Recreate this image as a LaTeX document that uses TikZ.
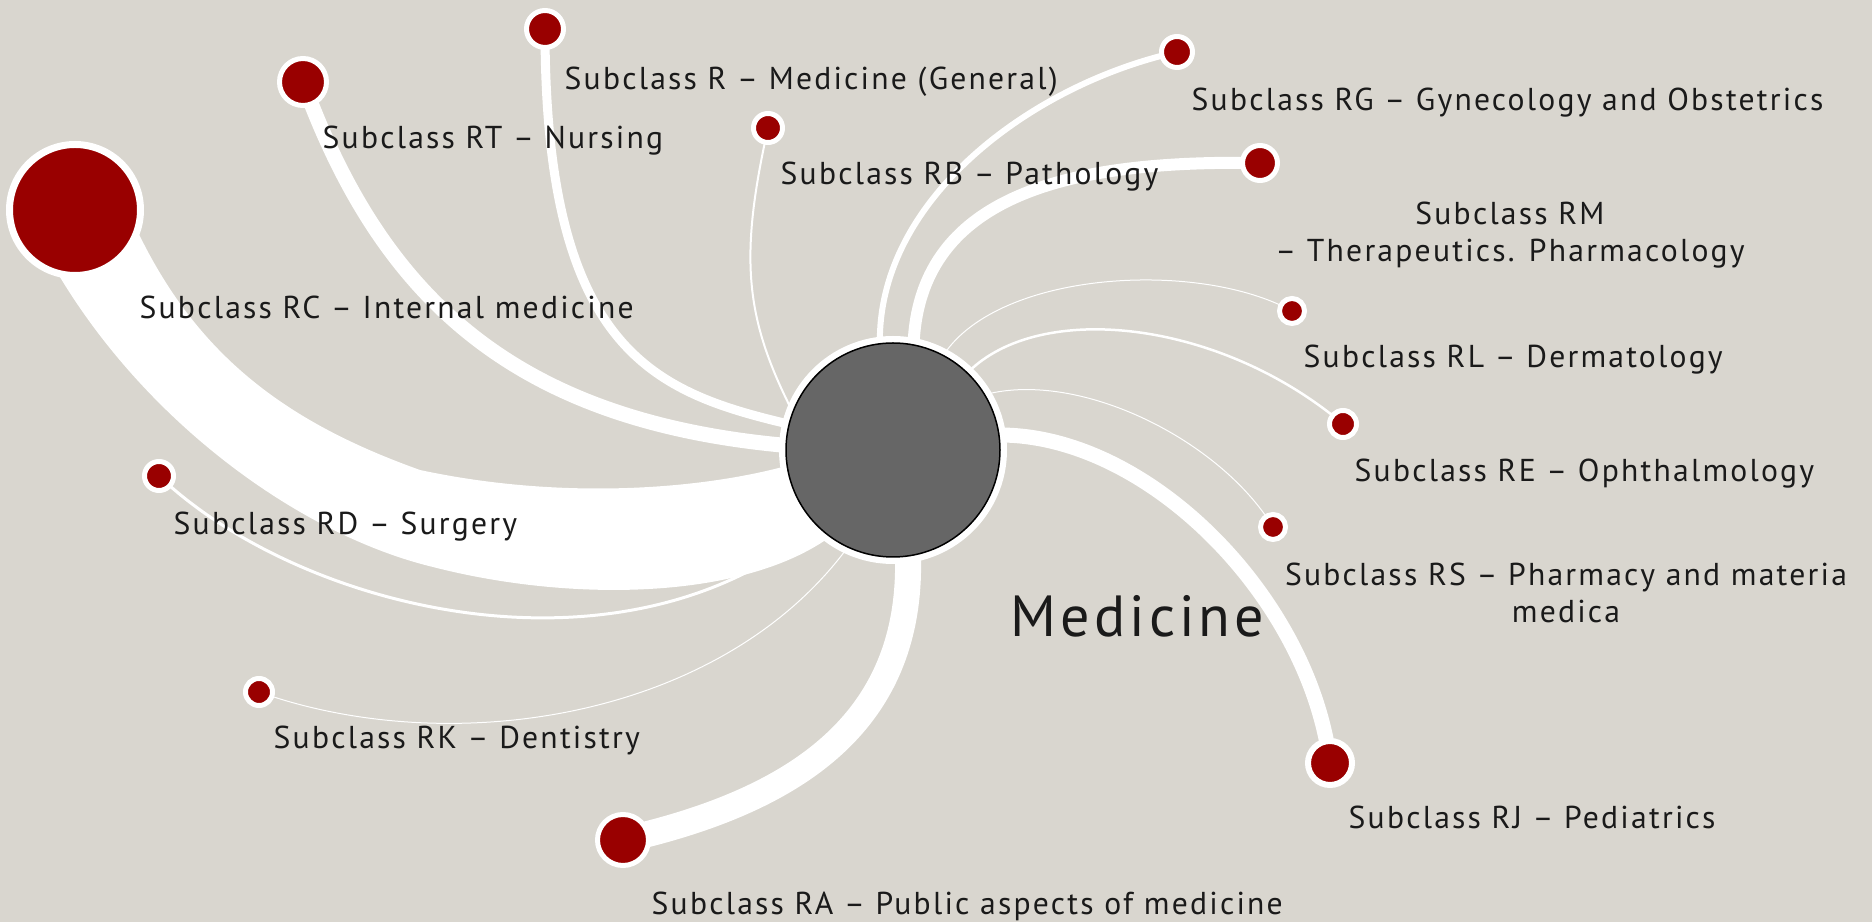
\documentclass[tikz,border=0pt]{standalone}
\usepackage{fontspec}
\setmainfont{PT Sans}[LetterSpace=7]
\newlength\pix
\setlength\pix{0.01cm}
\definecolor{canvas}{HTML}{D9D6CF}
\definecolor{berry}{HTML}{990000}
\definecolor{hubgray}{HTML}{666666}
\definecolor{ink}{HTML}{1A1A1A}
\pgfdeclarelayer{back}
\pgfsetlayers{back,main}

\begin{document}
\begin{tikzpicture}[x=0.01cm, y=-0.01cm,
  leaf/.style={circle, inner sep=0pt, fill=berry, draw=white, line width=5\pix, minimum size=#1\pix},
  leaf/.default=30,
  hub/.style={circle, inner sep=0pt, minimum size=214\pix, fill=hubgray, draw=black,
    line width=1.5\pix, preaction={draw=white, line width=14\pix}},
  lbl/.style={anchor=base west, inner sep=0pt, text=ink, font=\fontsize{9}{10.8}\selectfont},
  link/.style={draw=white, line width=#1\pix}]
  \useasboundingbox (0,0) rectangle (1872,922);
  % nodes
  \node[hub] (hub) at (893,450) {};
  \node[leaf=131, line width=7\pix] (rc) at (75,210) {};
  \node[leaf=47] (rt) at (303,82) {};
  \node[leaf=37] (rgen) at (545,29) {};
  \node[leaf=29] (rb) at (768,128) {};
  \node[leaf=31] (rg) at (1177,52) {};
  \node[leaf=35] (rm) at (1260,163) {};
  \node[leaf=25] (rl) at (1292,311) {};
  \node[leaf=27] (re) at (1343,424) {};
  \node[leaf=25] (rs) at (1273,527) {};
  \node[leaf=44, line width=6\pix] (rj) at (1330,763) {};
  \node[leaf=51] (ra) at (623,840) {};
  \node[leaf=27] (rk) at (259,692) {};
  \node[leaf=29] (rd) at (159,476) {};
  % labels
  \node[lbl] (lrgen) at (564,90) {Subclass R – Medicine (General)};
  \node[lbl] (lrt) at (322,149) {Subclass RT – Nursing};
  \node[lbl] (lrb) at (780,185) {Subclass RB – Pathology};
  \node[lbl] (lrc) at (139,319) {Subclass RC – Internal medicine};
  \node[lbl] (lrg) at (1191,111) {Subclass RG – Gynecology and Obstetrics};
  \node[lbl, anchor=base, align=center] (lrm) at (1510,262) {Subclass RM\\– Therapeutics. Pharmacology};
  \node[lbl] (lrl) at (1303,368) {Subclass RL – Dermatology};
  \node[lbl] (lre) at (1354,482) {Subclass RE – Ophthalmology};
  \node[lbl, anchor=base, align=center] (lrs) at (1566,623) {Subclass RS – Pharmacy and materia\\medica};
  \node[lbl] (lrj) at (1348,829) {Subclass RJ – Pediatrics};
  \node[lbl] (lra) at (651,915) {Subclass RA – Public aspects of medicine};
  \node[lbl] (lrk) at (273,749) {Subclass RK – Dentistry};
  \node[lbl] (lrd) at (173,535) {Subclass RD – Surgery};
  \node[lbl, font=\fontsize{16.5}{20}\selectfont] (lhub) at (1010,637) {Medicine};
  % links
  \begin{pgfonlayer}{back}
    \fill[canvas] (0,0) rectangle (1872,922);
    \fill[white] (130,215) .. controls (190,350) and (280,420) .. (420,470)
      .. controls (560,500) and (700,490) .. (790,465) -- (850,520)
      .. controls (770,600) and (580,605) .. (433,567)
      .. controls (300,535) and (140,420) .. (50,260) -- cycle;
    \draw[link=15] (rt.center) .. controls (390,320) and (543,450) .. (hub.center);
    \draw[link=9] (rgen.center) .. controls (545,429) and (713,396) .. (hub.center);
    \draw[link=2] (rb.center) .. controls (739,258) and (745,318) .. (hub.159);
    \draw[link=6] (rg.center) .. controls (1030,85) and (878,200) .. (hub.97);
    \draw[link=12] (rm.center) .. controls (1080,160) and (920,190) .. (hub.79);
    \draw[link=1] (rl.center) .. controls (1200,260) and (1000,270) .. (hub.62);
    \draw[link=2.5] (re.center) .. controls (1220,320) and (1040,300) .. (hub.46);
    \draw[link=1] (rs.center) .. controls (1220,440) and (1080,370) .. (hub.31);
    \draw[link=15] (rj.center) .. controls (1310,600) and (1150,435) .. (hub.8);
    \draw[link=26] (ra.center) .. controls (800,800) and (912,720) .. (hub.278);
    \draw[link=1] (rk.center) .. controls (450,760) and (720,720) .. (hub.245);
    \draw[link=3] (rd.center) .. controls (300,610) and (620,690) .. (hub.225);
  \end{pgfonlayer}
\end{tikzpicture}
\end{document}
